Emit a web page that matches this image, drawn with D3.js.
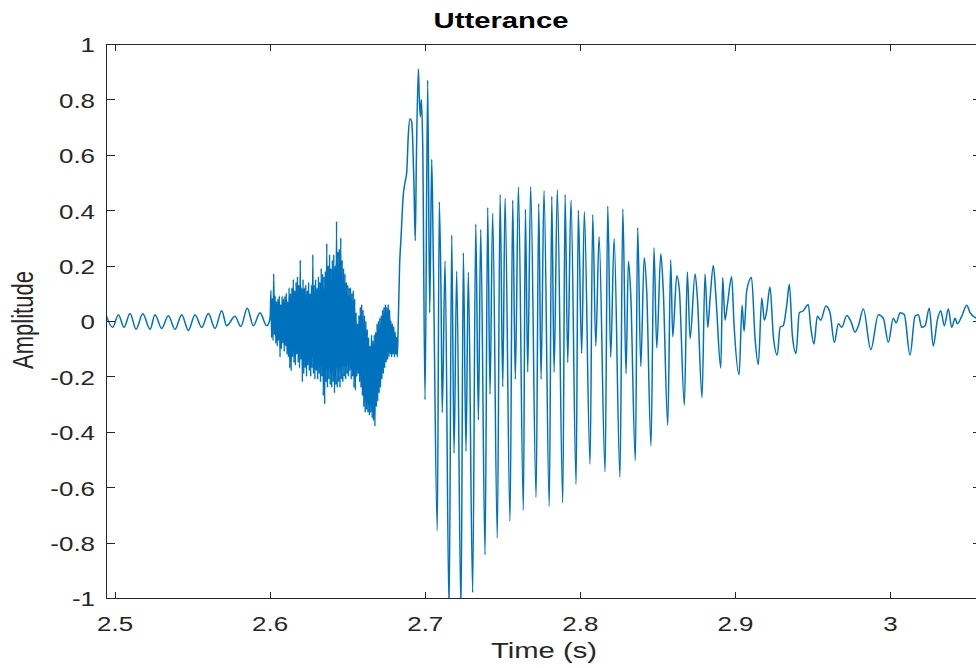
<!DOCTYPE html>
<html><head><meta charset="utf-8">
<script src="https://cdn.jsdelivr.net/npm/d3@7"></script>
<style>body{margin:0;background:#fff}svg{display:block}</style>
</head><body>
<svg id="c" width="976" height="668"></svg>
<script>
// ---------- data ----------
const xTickValues = [2.5, 2.6, 2.7, 2.8, 2.9, 3.0];
const xTickLabels = ["2.5", "2.6", "2.7", "2.8", "2.9", "3"];
const yTickValues = [-1, -0.8, -0.6, -0.4, -0.2, 0, 0.2, 0.4, 0.6, 0.8, 1];
const yTickLabels = ["-1", "-0.8", "-0.6", "-0.4", "-0.2", "0", "0.2", "0.4", "0.6", "0.8", "1"];
const xLimits = [2.4945, 3.0593];
const yLimits = [-1, 1];

// low-level voicing before the burst (time s, amplitude)
const leadTime = [2.4945,2.4988,2.5025,2.5061,2.5100,2.5139,2.5182,2.5229,2.5261,2.5304,2.5347,2.5390,2.5433,2.5476,2.5519,2.5562,2.5605,2.5648,2.5691,2.5723,2.5777,2.5814,2.5856,2.5895,2.5938,2.5981,2.5999];
const leadAmp  = [0.023,-0.023,0.023,-0.023,0.027,-0.030,0.026,-0.030,0.023,-0.027,0.019,-0.030,0.023,-0.034,0.023,-0.023,0.027,-0.027,0.037,-0.017,0.017,-0.020,0.046,-0.017,0.030,-0.017,0.000];

// noisy burst, sampled on a regular grid
const burstStart = 2.6004, burstStep = 0.00045;
const burstAmp = [
 0.02,0.11,-0.06,0.08,-0.07,0.17,-0.05,0.09,-0.08,0.07,
 -0.09,0.08,-0.07,0.09,-0.13,0.06,-0.1,0.09,-0.08,0.08,
 -0.11,0.09,-0.09,0.1,-0.12,0.07,-0.13,0.12,-0.17,0.1,
 -0.18,0.12,-0.13,0.15,-0.15,0.11,-0.16,0.14,-0.12,0.16,
 -0.15,0.13,-0.17,0.22,-0.14,0.12,-0.22,0.15,-0.19,0.12,
 -0.17,0.13,-0.2,0.11,-0.16,0.14,-0.18,0.1,-0.2,0.13,
 -0.17,0.24,-0.19,0.13,-0.21,0.15,-0.18,0.12,-0.21,0.16,
 -0.19,0.14,-0.22,0.19,-0.2,0.17,-0.27,0.16,-0.3,0.18,
 -0.22,0.28,-0.24,0.2,-0.21,0.24,-0.23,0.19,-0.24,0.22,
 -0.22,0.24,-0.26,0.2,-0.23,0.36,-0.24,0.25,-0.22,0.26,
 -0.24,0.3,-0.21,0.22,-0.22,0.19,-0.2,0.17,-0.21,0.14,
 -0.19,0.13,-0.2,0.12,-0.18,0.12,-0.21,0.1,-0.2,0.11,
 -0.24,0.08,-0.25,0.03,-0.2,-0.01,-0.19,0.02,-0.22,0.05,
 -0.24,0.06,-0.27,0.04,-0.31,0.02,-0.33,0.0,-0.32,-0.03,
 -0.33,-0.06,-0.34,-0.09,-0.33,-0.05,-0.35,-0.07,-0.36,-0.05,
 -0.38,-0.04,-0.31,-0.01,-0.29,0.0,-0.26,0.01,-0.24,0.02,
 -0.21,0.04,-0.19,0.05,-0.17,0.06,-0.15,0.05,-0.14,0.06,
 -0.13,0.04,-0.12,0.0,-0.13,-0.01,-0.12,-0.02,-0.13,-0.04,
 -0.12,-0.06,-0.13,-0.05];

// voiced vowel and decay (time s, amplitude)
const voicedTime = [2.6838,2.6847,2.6862,2.6873,2.6884,2.6894,2.6905,2.6916,2.6923,2.6931,2.6939,2.6946,2.6959,2.6965,2.6972,2.6978,2.6987,2.7002,2.7019,2.7032,2.7045,2.7055,2.7081,2.7094,2.7105,2.7113,2.7131,2.7157,2.7174,2.7189,2.7206,2.7234,2.7249,2.7266,2.7281,2.7309,2.7329,2.7346,2.7361,2.7389,2.7406,2.7421,2.7438,2.7468,2.7486,2.7503,2.7518,2.7550,2.7567,2.7584,2.7604,2.7636,2.7649,2.7664,2.7683,2.7718,2.7735,2.7750,2.7769,2.7803,2.7819,2.7834,2.7855,2.7890,2.7905,2.7922,2.7943,2.7976,2.7990,2.8012,2.8029,2.8066,2.8083,2.8103,2.8124,2.8163,2.8180,2.8199,2.8221,2.8259,2.8277,2.8298,2.8313,2.8328,2.8358,2.8373,2.8393,2.8415,2.8431,2.8459,2.8478,2.8496,2.8522,2.8538,2.8567,2.8586,2.8599,2.8625,2.8642,2.8674,2.8693,2.8711,2.8743,2.8758,2.8788,2.8807,2.8825,2.8840,2.8861,2.8878,2.8909,2.8921,2.8936,2.8951,2.8979,2.8994,2.9027,2.9046,2.9059,2.9076,2.9107,2.9130,2.9151,2.9173,2.9190,2.9205,2.9226,2.9248,2.9273,2.9291,2.9312,2.9334,2.9351,2.9370,2.9394,2.9415,2.9441,2.9473,2.9489,2.9510,2.9531,2.9553,2.9587,2.9613,2.9641,2.9667,2.9689,2.9721,2.9749,2.9774,2.9796,2.9828,2.9876,2.9925,2.9957,2.9989,3.0021,3.0039,3.0065,3.0092,3.0129,3.0161,3.0183,3.0204,3.0226,3.0253,3.0279,3.0305,3.0327,3.0350,3.0376,3.0398,3.0419,3.0434,3.0462,3.0495,3.0516,3.0537,3.0558,3.0593];
const voicedAmp = [0.20,0.30,0.457,0.50,0.537,0.67,0.73,0.72,0.644,0.48,0.29,0.577,0.91,0.804,0.737,0.80,0.64,-0.284,0.87,0.03,0.584,0.24,-0.757,0.43,0.10,-0.33,0.217,-1.05,0.31,-0.477,0.18,-1.05,0.246,-0.47,0.177,-0.98,0.35,-0.357,0.33,-0.844,0.41,-0.264,0.39,-0.784,0.457,-0.237,0.444,-0.724,0.437,-0.21,0.484,-0.684,0.404,-0.184,0.486,-0.637,0.424,-0.21,0.47,-0.67,0.45,-0.184,0.473,-0.657,0.457,-0.15,0.437,-0.59,0.40,-0.117,0.394,-0.517,0.384,-0.09,0.304,-0.544,0.414,-0.13,0.297,-0.564,0.404,-0.19,0.217,0.10,-0.504,0.337,-0.164,0.228,0.11,-0.45,0.264,-0.097,0.243,0.11,-0.376,0.22,-0.057,0.163,0.11,-0.304,0.177,-0.063,0.17,0.083,-0.277,0.17,-0.023,0.083,0.20,0.083,-0.17,0.157,0.003,0.057,0.16,-0.01,-0.194,0.057,-0.037,0.11,0.157,-0.064,-0.157,0.083,0.003,0.037,0.123,-0.057,-0.123,-0.023,-0.016,0.057,0.133,-0.05,-0.117,0.03,0.037,0.06,-0.023,-0.083,0.017,0.003,0.054,0.03,-0.077,-0.01,-0.023,0.02,-0.003,-0.04,-0.017,0.043,-0.103,0.023,0.01,-0.077,0.01,-0.007,0.03,0.023,-0.123,0.017,0.023,-0.023,-0.017,0.046,-0.09,0.003,0.037,-0.017,0.043,-0.023,0.01,-0.01,0.017,0.057,0.03,0.017,0.01,0.0];

// ---------- chart ----------
const L = 106, R = 982, T = 44, B = 598;
const SX = 1.33;            // horizontal stretch of the original figure text
const axisColor = "#262626";
const font = "'Liberation Sans', Arial, Helvetica, sans-serif";

const x = d3.scaleLinear().domain(xLimits).range([L, R]);
const y = d3.scaleLinear().domain(yLimits).range([B, T]);

const pts = [];
leadTime.forEach((t, i) => pts.push([t, leadAmp[i]]));
burstAmp.forEach((v, i) => pts.push([burstStart + i * burstStep, v]));
voicedTime.forEach((t, i) => pts.push([t, voicedAmp[i]]));

const svg = d3.select("#c");
svg.append("rect").attr("width", 976).attr("height", 668).attr("fill", "#fff");

svg.append("defs").append("clipPath").attr("id", "plotClip")
  .append("rect").attr("x", L).attr("y", T).attr("width", R - L).attr("height", B - T);

const line = d3.line().x(d => x(d[0])).y(d => y(d[1])).curve(d3.curveMonotoneX);
svg.append("path").datum(pts)
  .attr("clip-path", "url(#plotClip)")
  .attr("d", line)
  .attr("fill", "none")
  .attr("stroke", "#0072BD")
  .attr("stroke-width", 1.5)
  .attr("stroke-linejoin", "round");

function styleAxis(g) {
  g.select(".domain").remove();
  g.selectAll(".tick line").attr("stroke", axisColor).attr("stroke-width", 1).attr("shape-rendering", "crispEdges");
  g.selectAll(".tick text").attr("fill", axisColor).attr("font-family", font).attr("font-size", "19.5px");
}

// left
const gl = svg.append("g").attr("transform", `translate(${L},0)`)
  .call(d3.axisLeft(y).tickValues(yTickValues).tickFormat((d, i) => yTickLabels[i]).tickSize(-9).tickPadding(11));
styleAxis(gl);
gl.selectAll(".tick text").attr("x", -11 / SX).attr("dy", "0.4em").attr("transform", `scale(${SX},1)`);

// bottom
const gb = svg.append("g").attr("transform", `translate(0,${B})`)
  .call(d3.axisBottom(x).tickValues(xTickValues).tickFormat((d, i) => xTickLabels[i]).tickSize(-6.5).tickPadding(19));
styleAxis(gb);
gb.selectAll(".tick text").attr("transform", `scale(${SX},1)`);

// top & right mirrored ticks
const gt = svg.append("g").attr("transform", `translate(0,${T})`)
  .call(d3.axisTop(x).tickValues(xTickValues).tickFormat("").tickSize(-6.5));
styleAxis(gt);
const gr = svg.append("g").attr("transform", `translate(${R},0)`)
  .call(d3.axisRight(y).tickValues(yTickValues).tickFormat("").tickSize(-9));
styleAxis(gr);

// box
svg.append("rect").attr("x", L).attr("y", T).attr("width", R - L).attr("height", B - T)
  .attr("fill", "none").attr("stroke", axisColor).attr("stroke-width", 1).attr("shape-rendering", "crispEdges");

// title & labels
svg.append("text").text("Utterance")
  .attr("transform", `translate(501,28.3) scale(${SX},1)`)
  .attr("text-anchor", "middle").attr("font-family", font).attr("font-weight", "bold")
  .attr("font-size", "22px").attr("fill", "#000");

svg.append("text").text("Time (s)")
  .attr("transform", `translate(544,658) scale(${SX},1)`)
  .attr("text-anchor", "middle").attr("font-family", font)
  .attr("font-size", "22px").attr("fill", axisColor);

svg.append("text").text("Amplitude")
  .attr("transform", `translate(33,320) scale(${SX},1) rotate(-90)`)
  .attr("text-anchor", "middle").attr("font-family", font)
  .attr("font-size", "22px").attr("fill", axisColor);
</script>
</body></html>
